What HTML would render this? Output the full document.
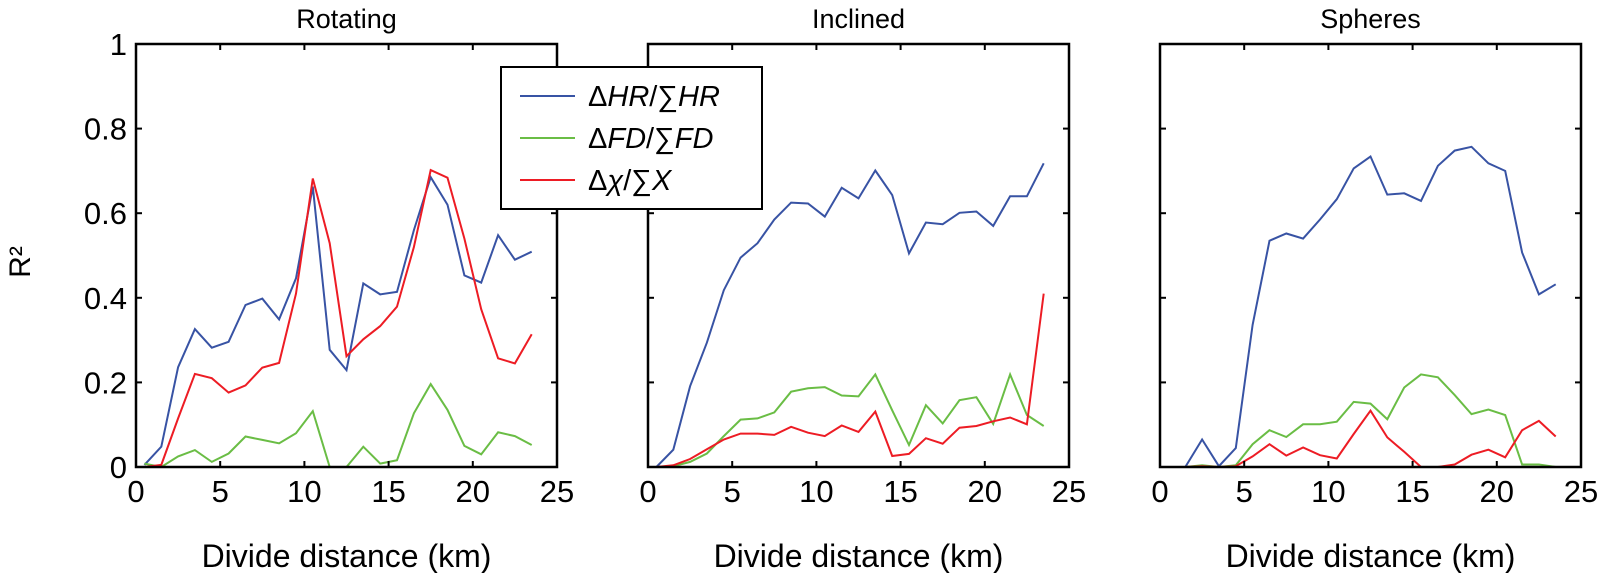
<!DOCTYPE html>
<html><head><meta charset="utf-8"><style>
html,body{margin:0;padding:0;background:#fff}
svg{display:block;font-family:"Liberation Sans",Arial,sans-serif}
</style></head><body>
<svg id="chart" width="1600" height="573" viewBox="0 0 1600 573" xmlns="http://www.w3.org/2000/svg">
<g id="plots"></g>
<text transform="translate(30,262) rotate(-90)" text-anchor="middle" font-size="30">R²</text>
<g>
<rect x="501" y="67" width="261" height="142" fill="#fff" stroke="#000" stroke-width="2"/>
<line x1="520" y1="96" x2="575" y2="96" stroke="#3853a4" stroke-width="2"/>
<text x="588" y="106" font-size="29">Δ<tspan font-style="italic">HR</tspan>/∑<tspan font-style="italic">HR</tspan></text>
<line x1="520" y1="138" x2="575" y2="138" stroke="#6abd45" stroke-width="2"/>
<text x="588" y="148" font-size="29">Δ<tspan font-style="italic">FD</tspan>/∑<tspan font-style="italic">FD</tspan></text>
<line x1="520" y1="180" x2="575" y2="180" stroke="#ed1c24" stroke-width="2"/>
<text x="588" y="190" font-size="29">Δ<tspan font-style="italic">χ</tspan>/∑<tspan font-style="italic">Χ</tspan></text>
</g>
</svg>
<script>
const xValues = [0.5,1.5,2.5,3.5,4.5,5.5,6.5,7.5,8.5,9.5,10.5,11.5,12.5,13.5,14.5,15.5,16.5,17.5,18.5,19.5,20.5,21.5,22.5,23.5];
const panelTitles = ["Rotating","Inclined","Spheres"];
const xTicks = [0,5,10,15,20,25];
const yTicks = [0,0.2,0.4,0.6,0.8,1];
const yTickLabels = ["0","0.2","0.4","0.6","0.8","1"];
const rotHR = [0.005,0.048,0.236,0.326,0.282,0.296,0.383,0.398,0.349,0.446,0.663,0.277,0.229,0.434,0.408,0.414,0.56,0.685,0.62,0.453,0.436,0.548,0.49,0.509];
const rotFD = [0.008,0,0.025,0.04,0.012,0.032,0.072,0.064,0.056,0.08,0.132,0,0,0.048,0.008,0.016,0.127,0.196,0.135,0.05,0.03,0.082,0.073,0.052];
const rotChi = [0,0.005,0.115,0.22,0.21,0.176,0.193,0.235,0.246,0.41,0.682,0.529,0.262,0.302,0.333,0.379,0.52,0.702,0.684,0.54,0.373,0.257,0.245,0.314];
const incHR = [0,0.041,0.191,0.294,0.418,0.495,0.529,0.585,0.625,0.623,0.592,0.66,0.635,0.701,0.643,0.505,0.578,0.574,0.601,0.604,0.57,0.64,0.64,0.718];
const incFD = [0,0.002,0.012,0.032,0.073,0.112,0.115,0.129,0.178,0.186,0.189,0.169,0.167,0.219,0.134,0.052,0.146,0.103,0.158,0.165,0.102,0.219,0.123,0.097];
const incChi = [0,0.004,0.019,0.042,0.065,0.079,0.079,0.076,0.095,0.081,0.073,0.098,0.083,0.131,0.026,0.031,0.068,0.055,0.093,0.097,0.108,0.117,0.101,0.41];
const sphHR = [0,0,0.065,0.002,0.045,0.336,0.535,0.552,0.54,0.585,0.633,0.706,0.734,0.644,0.647,0.629,0.712,0.748,0.757,0.718,0.7,0.507,0.408,0.432];
const sphFD = [0,0,0.004,0,0.004,0.054,0.087,0.071,0.101,0.101,0.107,0.154,0.15,0.113,0.188,0.219,0.212,0.17,0.125,0.136,0.123,0.006,0.006,0];
const sphChi = [0,0,0.002,0,0.002,0.025,0.054,0.027,0.046,0.028,0.02,0.078,0.133,0.07,0.036,0,0,0.006,0.029,0.041,0.023,0.087,0.109,0.072];

const NS="http://www.w3.org/2000/svg";
const panelLefts=[136,648,1160], W=421, TOP=44, BOT=467;
const seriesSets=[[rotHR,rotFD,rotChi],[incHR,incFD,incChi],[sphHR,sphFD,sphChi]];
const colors=["#3853a4","#6abd45","#ed1c24"];
const seriesNames=["hr","fd","chi"];
const root=document.getElementById('plots');
function mk(tag,attrs,parent){const e=document.createElementNS(NS,tag);for(const k in attrs)e.setAttribute(k,attrs[k]);parent.appendChild(e);return e;}
panelLefts.forEach((L,p)=>{
  const xs=v=>L+v/25*W, ys=v=>BOT-v*(BOT-TOP);
  const g=mk('g',{},root);
  
  
  const t=mk('text',{x:L+W/2,y:28,'text-anchor':'middle','font-size':27},g);
  t.textContent=panelTitles[p];
  
  
  seriesSets[p].forEach((arr,s)=>{
    const pts=arr.map((v,i)=>xs(xValues[i]).toFixed(1)+','+ys(v).toFixed(1)).join(' ');
    const pl=mk('polyline',{points:pts,fill:'none',stroke:colors[s],'stroke-width':2,'stroke-linejoin':'miter'},g);
    
    
  });
  const fr=mk('rect',{x:L,y:TOP,width:W,height:BOT-TOP,fill:'none',stroke:'#000','stroke-width':2.5},g);
  
  
  xTicks.forEach(v=>{
    const x=xs(v);
    mk('line',{x1:x,y1:BOT,x2:x,y2:BOT-6,stroke:'#000','stroke-width':2},g);
    mk('line',{x1:x,y1:TOP,x2:x,y2:TOP+6,stroke:'#000','stroke-width':2},g);
    const lt=mk('text',{x:x,y:BOT+35,'text-anchor':'middle','font-size':31},g);
    lt.textContent=String(v);
    
    
  });
  yTicks.forEach((v,i)=>{
    const y=ys(v);
    mk('line',{x1:L,y1:y,x2:L+6,y2:y,stroke:'#000','stroke-width':2},g);
    mk('line',{x1:L+W,y1:y,x2:L+W-6,y2:y,stroke:'#000','stroke-width':2},g);
    if(p===0){
      const yl=mk('text',{x:L-9,y:y+11,'text-anchor':'end','font-size':31},g);
      yl.textContent=yTickLabels[i];
      
      
    }
  });
  const xl=mk('text',{x:L+W/2,y:567,'text-anchor':'middle','font-size':32},g);
  xl.textContent='Divide distance (km)';
  
  
});
</script>
</body></html>
